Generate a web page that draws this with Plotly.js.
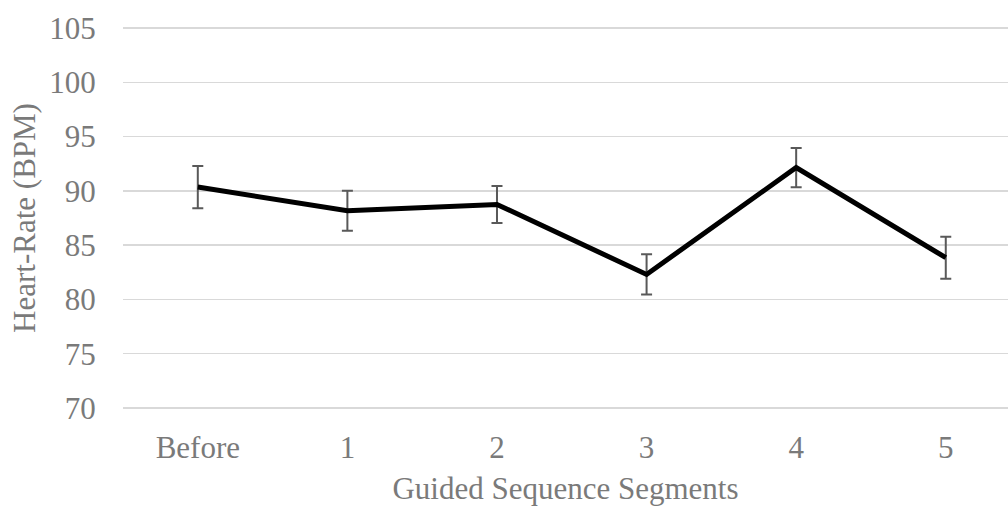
<!DOCTYPE html>
<html>
<head>
<meta charset="utf-8">
<script src="https://cdn.plot.ly/plotly-3.0.1.min.js"></script>
<style>html,body{margin:0;padding:0;background:#fff;}#chart{width:1008px;height:506px;}</style>
</head>
<body>
<div id="chart"></div>
<script>
const categories = ["Before", "1", "2", "3", "4", "5"];
const heartRate = [90.35, 88.17, 88.75, 82.3, 92.15, 83.84];
const errorValues = [1.95, 1.85, 1.7, 1.85, 1.81, 1.93];
const yTicks = [70, 75, 80, 85, 90, 95, 100, 105];

const fontFamily = '"Liberation Serif", "Times New Roman", serif';
const textColor = '#7a7a7a';

const trace = {
  x: categories,
  y: heartRate,
  type: 'scatter',
  mode: 'lines',
  line: {color: '#000000', width: 5},
  error_y: {type: 'data', array: errorValues, visible: true, color: '#595959', thickness: 2, width: 5.5},
  hoverinfo: 'skip'
};

const layout = {
  width: 1008,
  height: 506,
  margin: {l: 123, r: 0, t: 26.7, b: 97},
  paper_bgcolor: '#ffffff',
  plot_bgcolor: '#ffffff',
  showlegend: false,
  xaxis: {
    type: 'category',
    range: [-0.5, 5.416],
    showgrid: false,
    zeroline: false,
    showline: false,
    ticks: 'outside',
    ticklen: 11,
    tickcolor: 'rgba(0,0,0,0)',
    tickfont: {family: fontFamily, size: 31, color: textColor},
    title: {text: 'Guided Sequence Segments', font: {family: fontFamily, size: 31, color: textColor}, standoff: 14}
  },
  yaxis: {
    range: [69.9, 105.1],
    tickvals: yTicks,
    ticktext: yTicks.map(String),
    showgrid: true,
    gridcolor: '#d9d9d9',
    gridwidth: 1.5,
    zeroline: false,
    showline: false,
    ticks: 'outside',
    ticklen: 20,
    tickcolor: 'rgba(0,0,0,0)',
    tickfont: {family: fontFamily, size: 31, color: textColor},
    title: {text: 'Heart-Rate (BPM)', font: {family: fontFamily, size: 31, color: textColor}, standoff: 4}
  }
};

Plotly.newPlot('chart', [trace], layout, {displayModeBar: false, staticPlot: true});
</script>
</body>
</html>
